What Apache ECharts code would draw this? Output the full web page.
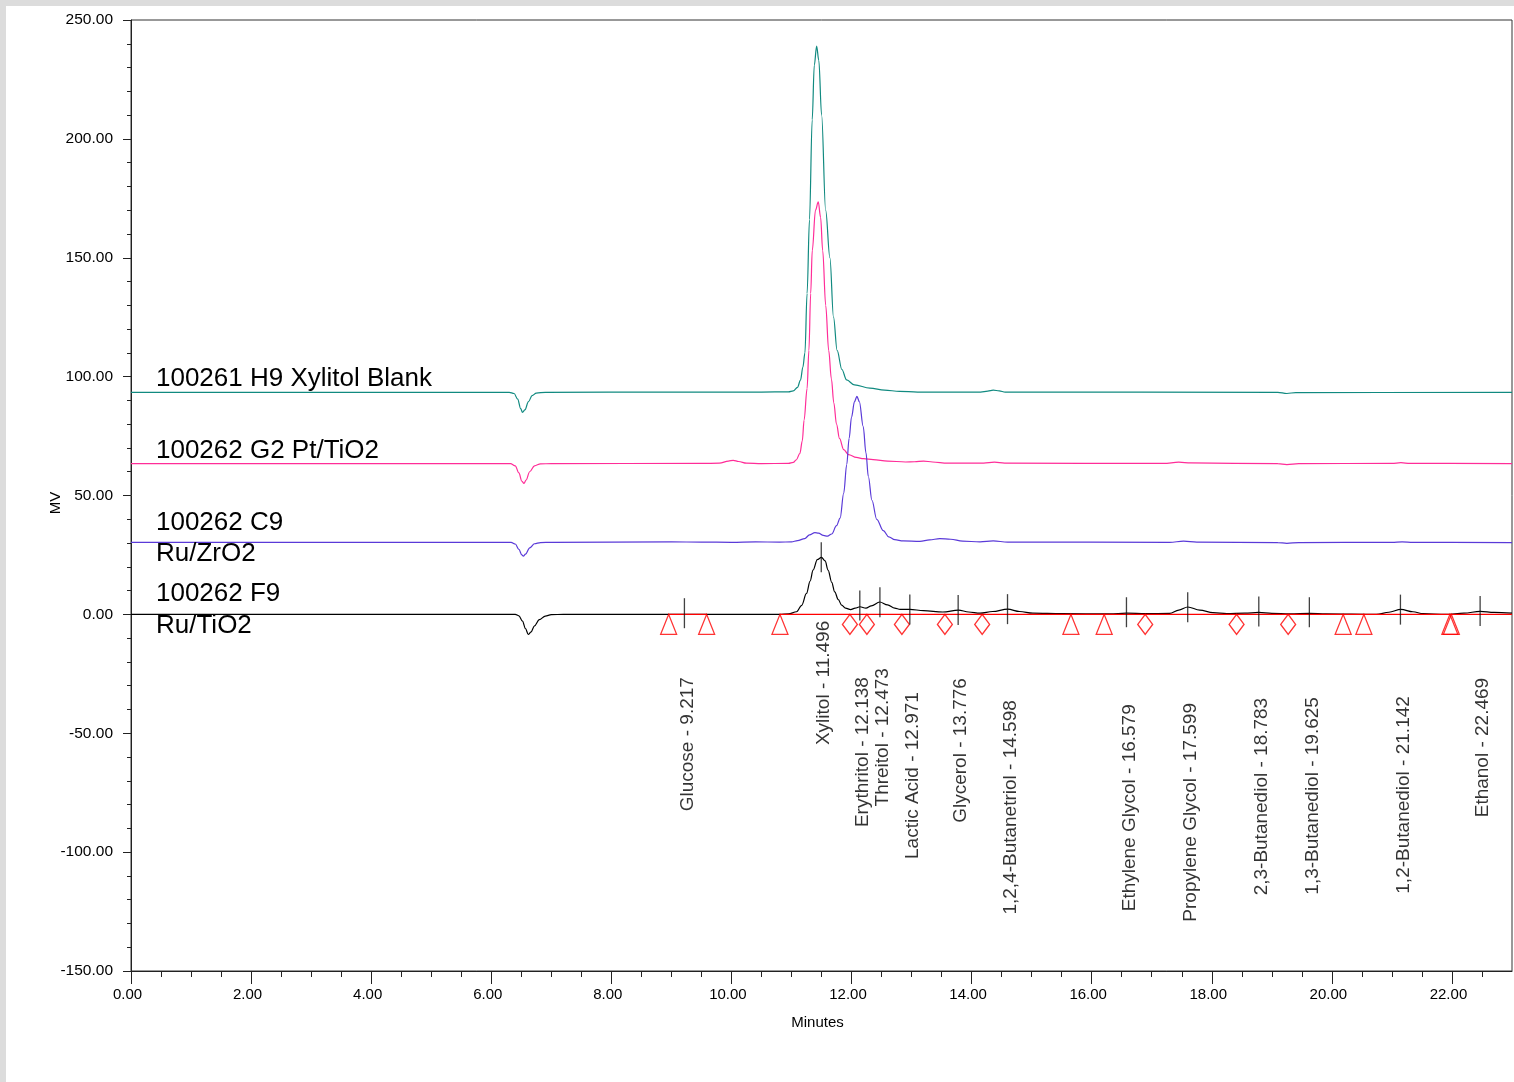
<!DOCTYPE html>
<html><head><meta charset="utf-8">
<script src="https://cdn.jsdelivr.net/npm/echarts@6/dist/echarts.min.js"></script>
<style>html,body{margin:0;padding:0;background:#dcdcdc;}#c{width:1514px;height:1082px;}</style>
</head><body><div id="c"></div>
<script>
// ---------- DATA ----------
const traceNames = ['100261 H9 Xylitol Blank', '100262 G2 Pt/TiO2', '100262 C9 Ru/ZrO2', '100262 F9 Ru/TiO2'];

const tealTrace = [[0,93.4],[6.3,93.4],[6.38,92.9],[6.44,90.5],[6.49,86.5],[6.52,85.0],[6.56,86.0],[6.62,89.5],[6.68,92.0],[6.75,93.1],[6.9,93.4],[9.0,93.5],[10.5,93.5],[10.95,93.6],[11.03,94.0],[11.1,95.5],[11.15,98.5],[11.19,104],[11.224,110],[11.26,135],[11.3,166],[11.345,208],[11.38,231],[11.419,239],[11.455,233],[11.502,210],[11.569,170],[11.64,150],[11.70,125],[11.76,111],[11.84,103],[11.918,98.6],[12.05,96.5],[12.306,95.2],[12.55,94.3],[12.8,93.8],[13.1,93.5],[14.15,93.5],[14.27,93.9],[14.36,94.3],[14.46,94.0],[14.56,93.5],[19.1,93.4],[19.25,92.9],[19.4,93.3],[23,93.4]];

const pinkTrace = [[0,63.4],[6.32,63.4],[6.40,62.5],[6.46,59.5],[6.51,56.0],[6.545,55.1],[6.58,56.5],[6.64,60.0],[6.72,62.5],[6.82,63.3],[7.0,63.4],[9.5,63.5],[9.8,63.6],[9.95,64.5],[10.03,64.8],[10.12,64.3],[10.25,63.6],[10.5,63.4],[10.95,63.5],[11.03,63.9],[11.08,65],[11.14,67.7],[11.18,73],[11.21,81.7],[11.26,95],[11.29,111],[11.32,135],[11.346,153],[11.40,170],[11.446,173.5],[11.485,167],[11.52,153],[11.57,130],[11.62,111],[11.665,99],[11.705,89],[11.75,80],[11.8,74],[11.87,69.3],[11.95,67.2],[12.08,66.0],[12.2,65.5],[12.36,65.1],[12.6,64.5],[12.9,64.1],[13.05,64.2],[13.2,64.5],[13.35,64.1],[13.6,63.6],[14.2,63.6],[14.38,64.0],[14.55,63.6],[17.2,63.5],[17.45,64.0],[17.65,63.7],[19.1,63.4],[19.25,63.0],[19.45,63.4],[21.0,63.5],[21.15,63.8],[21.3,63.5],[23,63.4]];

const purpleTrace = [[0,30.3],[6.33,30.3],[6.40,29.6],[6.46,27.3],[6.51,25.0],[6.535,24.5],[6.57,25.3],[6.64,28.0],[6.72,29.7],[6.82,30.2],[7.0,30.3],[9.0,30.5],[9.5,30.4],[10.0,30.3],[10.4,30.5],[10.8,30.4],[11.0,30.5],[11.1,31.0],[11.22,31.9],[11.3,33.4],[11.39,34.4],[11.45,34.2],[11.53,33.2],[11.6,32.9],[11.67,33.8],[11.75,37.3],[11.81,40.5],[11.87,51],[11.92,63],[11.96,74],[12.0,83],[12.05,89.5],[12.09,91.7],[12.13,89.5],[12.195,79],[12.24,68],[12.28,58],[12.34,48],[12.42,40],[12.53,35.2],[12.62,32.6],[12.72,31.4],[12.86,30.9],[13.14,30.7],[13.3,31.3],[13.47,31.9],[13.65,31.6],[13.85,30.8],[14.14,30.5],[14.36,30.9],[14.6,30.4],[17.3,30.3],[17.53,30.8],[17.75,30.4],[19.1,30.2],[19.25,29.9],[19.45,30.2],[21.0,30.3],[21.17,30.5],[21.35,30.3],[23,30.2]];

const blackTrace = [[0,0],[6.4,0],[6.46,-0.6],[6.52,-2.8],[6.57,-6.0],[6.616,-8.4],[6.66,-7.5],[6.72,-4.8],[6.8,-2.2],[6.9,-0.7],[7.0,-0.1],[7.2,0],[9.0,0],[10.8,0],[10.95,0.2],[11.085,1.1],[11.17,3.8],[11.25,8.8],[11.31,14],[11.36,18.6],[11.43,23],[11.50,24],[11.56,22.5],[11.61,18.6],[11.67,13.5],[11.72,9.5],[11.78,6.2],[11.835,3.9],[11.9,2.6],[11.985,2.0],[12.06,2.6],[12.14,3.2],[12.24,2.6],[12.33,3.6],[12.47,5.2],[12.6,4.0],[12.72,2.6],[12.81,2.1],[12.97,2.1],[13.2,1.6],[13.52,1.0],[13.78,1.8],[13.95,1.0],[14.14,0.5],[14.35,1.2],[14.6,2.2],[14.8,1.2],[15.02,0.5],[15.5,0.3],[16.3,0.2],[16.58,0.5],[16.9,0.3],[17.3,0.4],[17.45,1.8],[17.6,3.1],[17.8,1.8],[18.02,0.7],[18.25,0.3],[18.55,0.5],[18.78,0.8],[19.0,0.4],[19.3,0.2],[19.63,0.4],[19.9,0.2],[20.74,0],[20.95,0.9],[21.15,2.1],[21.35,1.1],[21.52,0.3],[21.9,0],[22.2,0.5],[22.47,1.3],[22.7,0.8],[23,0.5]];

// integration baseline segments (minutes)
const baselineSegments = [[8.954, 9.587], [10.808, 23]];
// integration event markers (minutes)
const triangleTimes = [8.954, 9.587, 10.808, 15.654, 16.208, 20.188, 20.533, 21.965, 21.99];
const diamondTimes = [11.973, 12.256, 12.839, 13.555, 14.176, 16.891, 18.413, 19.272];

// identified peaks
const peakNames = ['Glucose','Xylitol','Erythritol','Threitol','Lactic Acid','Glycerol','1,2,4-Butanetriol','Ethylene Glycol','Propylene Glycol','2,3-Butanediol','1,3-Butanediol','1,2-Butanediol','Ethanol'];
const peakTimes = [9.217, 11.496, 12.138, 12.473, 12.971, 13.776, 14.598, 16.579, 17.599, 18.783, 19.625, 21.142, 22.469];
const peakApexMv = [0.5, 24, 3.7, 5.1, 2.0, 1.8, 2.2, 0.9, 3.0, 1.2, 0.9, 2.0, 1.4];

// axis ticks
const xMajorTicks = [0,2,4,6,8,10,12,14,16,18,20,22];
const xMinorTicks = [0.5,1,1.5,2.5,3,3.5,4.5,5,5.5,6.5,7,7.5,8.5,9,9.5,10.5,11,11.5,12.5,13,13.5,14.5,15,15.5,16.5,17,17.5,18.5,19,19.5,20.5,21,21.5,22.5];

// ---------- LAYOUT (not data) ----------
const peakLabelTopMv = [-26.4, -2.7, -26.4, -22.6, -32.7, -26.8, -36.1, -37.8, -37.3, -35.1, -34.8, -34.4, -26.7];
const titleLayout = [
  {lines: ['100261 H9 Xylitol Blank'], x: 0.416, baseMv: [93.4]},
  {lines: ['100262 G2 Pt/TiO2'], x: 0.416, baseMv: [63.4]},
  {lines: ['100262 C9', 'Ru/ZrO2'], x: 0.416, baseMv: [33.1, 19.8]},
  {lines: ['100262 F9', 'Ru/TiO2'], x: 0.416, baseMv: [3.1, -10.3]}
];
const traceColors = ['#118a80', '#ff2d98', '#5a3ad8', '#000000'];
const FONT = 'Liberation Sans, Arial, Helvetica, sans-serif';

const chart = echarts.init(document.getElementById('c'), null, {renderer: 'canvas'});
const traces = [tealTrace, pinkTrace, purpleTrace, blackTrace];

const series = traces.map((d, i) => ({
  name: traceNames[i], type: 'line', data: d, showSymbol: false, symbol: 'none',
  smooth: 0.35, smoothMonotone: 'x', silent: true, z: 3,
  lineStyle: {color: traceColors[i], width: 1.2}
}));
baselineSegments.forEach((s) => {
  series.push({type: 'line', data: [[s[0], 0], [s[1], 0]], symbol: 'none', silent: true, z: 4,
    lineStyle: {color: '#ff0000', width: 1.2}});
});
series.push({type: 'scatter', data: triangleTimes.map(t => [t, 0]), symbol: 'triangle', symbolSize: [16, 20],
  symbolOffset: [0, '50%'], silent: true, z: 5,
  itemStyle: {color: 'rgba(255,255,255,0)', borderColor: '#ff0000', borderWidth: 1.3}});
series.push({type: 'scatter', data: diamondTimes.map(t => [t, 0]), symbol: 'diamond', symbolSize: [15, 20],
  symbolOffset: [0, '50%'], silent: true, z: 5,
  itemStyle: {color: 'rgba(255,255,255,0)', borderColor: '#ff0000', borderWidth: 1.3}});
series.push({type: 'scatter', data: peakTimes.map((t, i) => [t, peakApexMv[i]]), symbol: 'rect', symbolSize: [1.3, 30],
  silent: true, z: 6, itemStyle: {color: '#111'}});
series.push({type: 'scatter', silent: true, z: 6, symbolSize: 0,
  data: peakNames.map((n, i) => ({name: n, value: [peakTimes[i], peakLabelTopMv[i]]})),
  label: {show: true, position: 'inside', rotate: 90, align: 'right', verticalAlign: 'middle', offset: [0, 3],
    fontFamily: FONT, fontSize: 19, color: '#000',
    formatter: p => p.name + ' - ' + peakTimes[p.dataIndex].toFixed(3)}});

chart.setOption({
  backgroundColor: '#dcdcdc',
  animation: false,
  textStyle: {fontFamily: FONT},
  grid: {left: 131, top: 20, right: 2, bottom: 111, show: true, borderColor: '#333', borderWidth: 1, backgroundColor: 'rgba(0,0,0,0)'},
  xAxis: [{
    type: 'value', min: 0, max: 23, interval: 2, position: 'bottom',
    name: 'Minutes', nameLocation: 'middle', nameGap: 44, nameMoveOverlap: false,
    nameTextStyle: {fontFamily: FONT, fontSize: 15, color: '#000', padding: [0, 8, 0, 0]},
    axisLine: {show: true, onZero: false, lineStyle: {color: '#222', width: 1}},
    axisTick: {show: true, length: 13, customValues: xMajorTicks, lineStyle: {color: '#222', width: 1}},
    axisLabel: {customValues: xMajorTicks, margin: 16, padding: [0, 7, 0, 0], fontFamily: FONT, fontSize: 15, color: '#000', formatter: v => v.toFixed(2)},
    splitLine: {show: false}
  }, {
    type: 'value', min: 0, max: 23, interval: 0.5, position: 'bottom', gridIndex: 0,
    axisLine: {show: false, onZero: false},
    axisTick: {show: true, length: 6, customValues: xMinorTicks, lineStyle: {color: '#222', width: 1}},
    axisLabel: {show: false}, splitLine: {show: false}
  }],
  yAxis: {
    type: 'value', min: -150, max: 250, interval: 50,
    name: 'MV', nameLocation: 'middle', nameGap: 68, nameRotate: 90, nameMoveOverlap: false,
    nameTextStyle: {fontFamily: FONT, fontSize: 15, color: '#000', padding: [0, 15, 0, 0]},
    axisLine: {show: true, onZero: false, lineStyle: {color: '#222', width: 1}},
    axisTick: {show: true, length: 8, lineStyle: {color: '#222', width: 1}},
    minorTick: {show: true, splitNumber: 5, length: 4, lineStyle: {color: '#222', width: 1}},
    axisLabel: {margin: 18, fontFamily: FONT, fontSize: 15.5, color: '#000', formatter: v => v.toFixed(2)},
    splitLine: {show: false}
  },
  series: series
});

// trace titles anchored in data coordinates
const g = [{type: 'rect', z: -100, shape: {x: 6, y: 6, width: 1508, height: 1076}, style: {fill: '#ffffff'}}];
titleLayout.forEach((t, i) => {
  t.lines.forEach((ln, j) => {
    const p = chart.convertToPixel({gridIndex: 0}, [t.x, t.baseMv[j]]);
    g.push({type: 'text', z: 10, x: p[0], y: p[1],
      style: {text: ln, font: '26px ' + FONT, fill: '#000', align: 'left', verticalAlign: 'bottom'}});
  });
});
chart.setOption({graphic: g}, {replaceMerge: ['graphic']});
</script></body></html>
